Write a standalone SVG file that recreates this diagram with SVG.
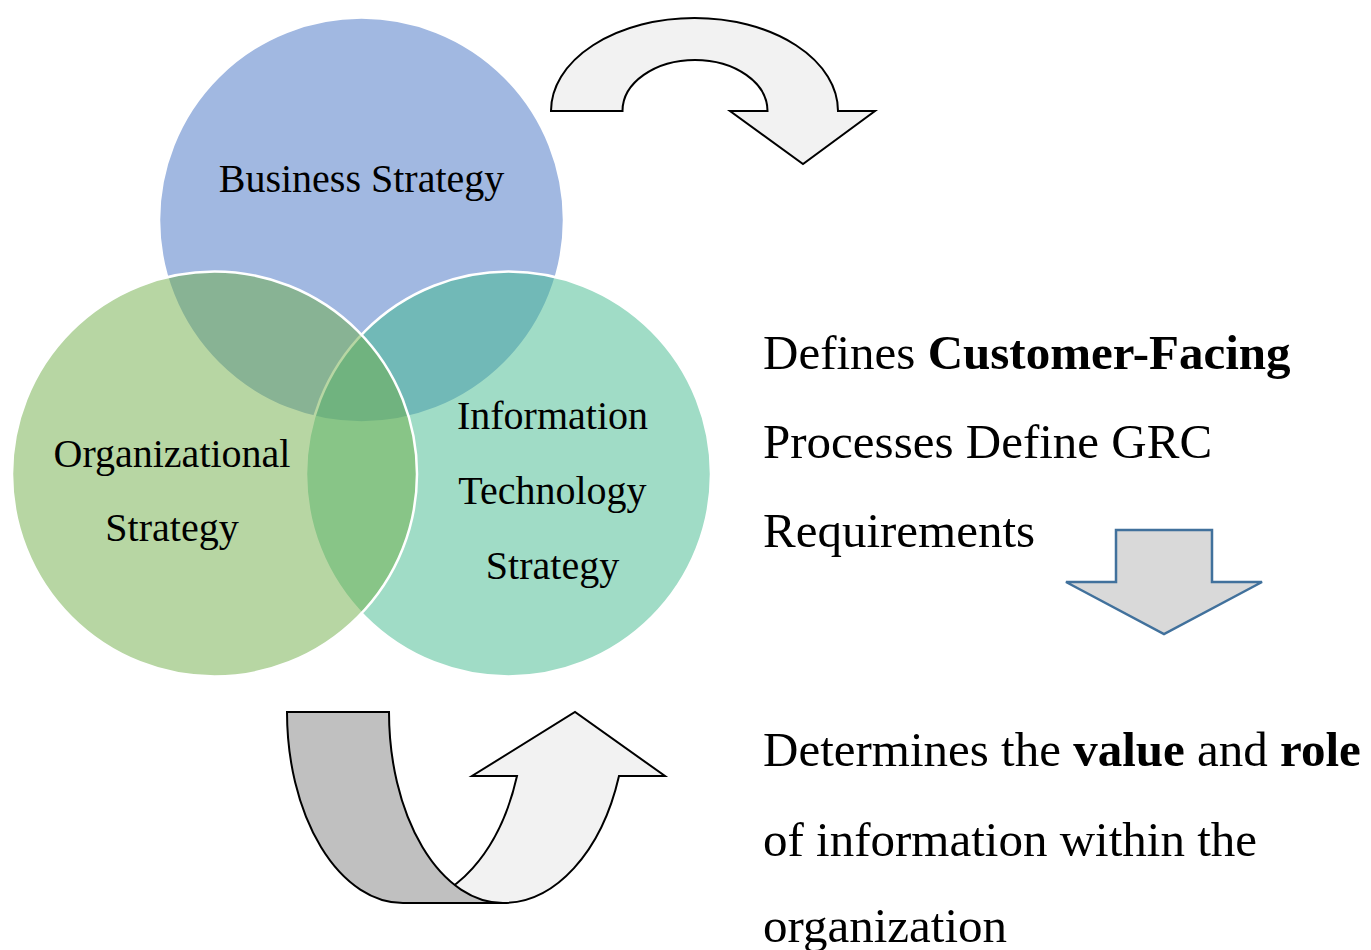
<svg xmlns="http://www.w3.org/2000/svg" width="1371" height="950" viewBox="0 0 1371 950">
<style>
.t{font-family:"Liberation Serif","Times New Roman",serif;fill:#000}
.c{font-size:40px;text-anchor:middle}
.r{font-size:49px}
.b{font-weight:bold}
.circ{fill-opacity:0.5;stroke:#fff;stroke-width:2.5}
.arr{stroke:#000;stroke-width:2;stroke-linejoin:miter}
</style>
<rect width="1371" height="950" fill="#fff"/>
<g id="venn">
<g id="business"><circle class="circ" cx="361.5" cy="220" r="202.5" fill="#4472c4"/></g>
<g id="it"><circle class="circ" cx="508.5" cy="474" r="202.5" fill="#41b98d"/></g>
<g id="org"><circle class="circ" cx="214.5" cy="474" r="202.5" fill="#70ad47"/></g>
<text class="t c" x="361.5" y="192">Business Strategy</text>
<text class="t c" x="172" y="467">Organizational</text>
<text class="t c" x="172" y="541">Strategy</text>
<text class="t c" x="552.5" y="429">Information</text>
<text class="t c" x="552.5" y="504">Technology</text>
<text class="t c" x="552.5" y="579">Strategy</text>
</g>
<g id="connectors">
<path id="top-arrow" class="arr" fill="#f2f2f2" d="M551,111 A143.5,93 0 0 1 838,111 L875,111 L803,164 L730,111 L767.5,111 A72.5,51 0 0 0 622.5,111 Z"/>
<path id="down-arrow" fill="#d9d9d9" stroke="#41719c" stroke-width="2.5" d="M1116,530 L1212,530 L1212,582 L1262,582 L1164,634 L1066,582 L1116,582 Z"/>
<g id="uturn">
<path class="arr" fill="#f2f2f2" d="M503,903 A123,191 0 0 0 619,776 L665,776 L575,712 L472,776 L517,776 A121,191 0 0 1 403,903 Z"/>
<path class="arr" fill="#c0c0c0" d="M287,712 L389,712 A114,191 0 0 0 503,903 L403,903 A116,191 0 0 1 287,712 Z"/>
</g>
</g>
<g id="text-top">
<text class="t r" x="763" y="369">Defines <tspan class="b">Customer-Facing</tspan></text>
<text class="t r" x="763" y="458">Processes Define GRC</text>
<text class="t r" x="763" y="547">Requirements</text>
</g>
<g id="text-bottom">
<text class="t r" x="763" y="766">Determines the <tspan class="b">value</tspan> and <tspan class="b">role</tspan></text>
<text class="t r" x="763" y="856">of information within the</text>
<text class="t r" x="763" y="942">organization</text>
</g>
</svg>
